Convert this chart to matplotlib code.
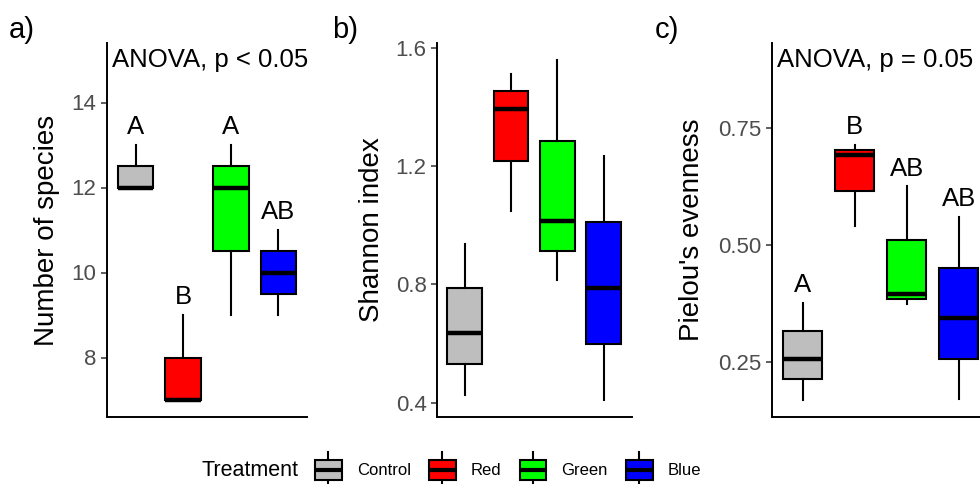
import matplotlib
matplotlib.use("Agg")
import matplotlib.pyplot as plt
from matplotlib.legend_handler import HandlerBase
from matplotlib.patches import Patch, Rectangle
from matplotlib.lines import Line2D

plt.rcParams["font.family"] = ["Liberation Sans", "DejaVu Sans"]

treatments = ["Control", "Red", "Green", "Blue"]
colors = ["#BEBEBE", "#FF0000", "#00FF00", "#0000FF"]

# a) number of species
richness_lo = [12, 7, 9, 9]
richness_q1 = [12, 7, 10.5, 9.5]
richness_med = [12, 7, 12, 10]
richness_q3 = [12.5, 8, 12.5, 10.5]
richness_hi = [13, 9, 13, 11]
richness_letters = ["A", "B", "A", "AB"]

# b) Shannon index
shannon_lo = [0.425, 1.048, 0.813, 0.409]
shannon_q1 = [0.529, 1.217, 0.914, 0.597]
shannon_med = [0.636, 1.393, 1.014, 0.787]
shannon_q3 = [0.787, 1.452, 1.284, 1.010]
shannon_hi = [0.935, 1.510, 1.558, 1.232]

# c) Pielou's evenness
pielou_lo = [0.168, 0.539, 0.374, 0.171]
pielou_q1 = [0.212, 0.614, 0.383, 0.256]
pielou_med = [0.256, 0.691, 0.394, 0.343]
pielou_q3 = [0.316, 0.702, 0.511, 0.451]
pielou_hi = [0.376, 0.713, 0.625, 0.559]
pielou_letters = ["A", "B", "AB", "AB"]

TICK_GREY = "#4D4D4D"


def make_stats(lo, q1, med, q3, hi):
    return [dict(whislo=a, q1=b, med=c, q3=d, whishi=e, fliers=[])
            for a, b, c, d, e in zip(lo, q1, med, q3, hi)]


def draw_panel(ax, stats, ylabel, yticks, yticklabels, letters=None, anova=None):
    positions = range(1, len(stats) + 1)
    bp = ax.bxp(stats, positions=positions, widths=0.75, patch_artist=True,
                showfliers=False, showcaps=False,
                boxprops=dict(edgecolor="black", linewidth=1.5),
                whiskerprops=dict(color="black", linewidth=1.5),
                medianprops=dict(color="black", linewidth=3.2, solid_capstyle="butt"))
    for patch, col in zip(bp["boxes"], colors):
        patch.set_facecolor(col)

    lo = min(s["whislo"] for s in stats)
    hi = max(s["whishi"] for s in stats)
    if anova is not None:
        hi = max(hi, anova[1])
    span = hi - lo
    ax.set_ylim(lo - 0.05 * span, hi + 0.05 * span)
    ax.set_xlim(0.4, len(stats) + 0.6)

    if letters is not None:
        for x, s, lab in zip(positions, stats, letters):
            ax.text(x, s["whishi"] + 0.052 * span, lab, ha="center", va="center",
                    fontsize=18.5, color="black")
    if anova is not None:
        ax.text(0.5, anova[1], anova[0], ha="left", va="center", fontsize=18.5)

    ax.set_xticks([])
    ax.set_yticks(yticks)
    ax.set_yticklabels(yticklabels)
    ax.tick_params(axis="y", length=4.5, width=1.1, color="#333333",
                   labelsize=16, labelcolor=TICK_GREY, pad=3)
    for side in ("top", "right"):
        ax.spines[side].set_visible(False)
    for side in ("left", "bottom"):
        ax.spines[side].set_linewidth(1.4)
    ax.set_ylabel(ylabel, fontsize=20, va="center")


class BoxKeyHandler(HandlerBase):
    # ggplot-style boxplot key: whisker through a filled box with a thick median
    def create_artists(self, legend, orig_handle, xdescent, ydescent,
                       width, height, fontsize, trans):
        x0, y0 = -xdescent, -ydescent
        xc = x0 + width / 2
        whisk = Line2D([xc, xc], [y0 - 0.2 * height, y0 + 1.2 * height],
                       color="black", lw=1.5, transform=trans)
        box = Rectangle((x0, y0 + 0.1 * height), width, 0.8 * height,
                        facecolor=orig_handle.get_facecolor(), edgecolor="black",
                        lw=1.5, transform=trans)
        med = Line2D([x0, x0 + width], [y0 + height / 2] * 2, color="black", lw=3,
                     solid_capstyle="butt", transform=trans)
        return [whisk, box, med]


fig = plt.figure(figsize=(9.8, 4.84), dpi=100)
W, H = 980, 484

ax_a = fig.add_axes([107 / W, (H - 417) / H, 200 / W, 374 / H])
ax_b = fig.add_axes([437 / W, (H - 417) / H, 194.5 / W, 374 / H])
ax_c = fig.add_axes([771.5 / W, (H - 417) / H, 218.5 / W, 374 / H])

draw_panel(ax_a, make_stats(richness_lo, richness_q1, richness_med, richness_q3, richness_hi),
           "Number of species", [8, 10, 12, 14], ["8", "10", "12", "14"],
           letters=richness_letters, anova=("ANOVA, p < 0.05", 15))
draw_panel(ax_b, make_stats(shannon_lo, shannon_q1, shannon_med, shannon_q3, shannon_hi),
           "Shannon index", [0.4, 0.8, 1.2, 1.6], ["0.4", "0.8", "1.2", "1.6"])
draw_panel(ax_c, make_stats(pielou_lo, pielou_q1, pielou_med, pielou_q3, pielou_hi),
           "Pielou's evenness", [0.25, 0.50, 0.75], ["0.25", "0.50", "0.75"],
           letters=pielou_letters, anova=("ANOVA, p = 0.05", 0.895))

ax_a.yaxis.set_label_coords((46.7 - 107) / 200, 0.5)
ax_b.yaxis.set_label_coords((371.7 - 437) / 194.5, 0.5)
ax_c.yaxis.set_label_coords((691.7 - 771.5) / 218.5, 0.5)

for lab, xpx in zip(["a)", "b)", "c)"], [9, 332, 655]):
    fig.text(xpx / W, 1 - 30 / H, lab, ha="left", va="center", fontsize=21)

handles = [Patch(facecolor=c, edgecolor="black") for c in colors]
fig.legend(handles, treatments, loc="center left", bbox_to_anchor=(315 / W, 14 / H),
           ncol=4, frameon=False, fontsize=12, handlelength=1.6, handleheight=2.0,
           handletextpad=0.9, columnspacing=1.1, borderpad=0, borderaxespad=0,
           handler_map={Patch: BoxKeyHandler()})
fig.text(201 / W, 14 / H, "Treatment", ha="left", va="center", fontsize=15.5)

fig.savefig("out.png", dpi=100)
